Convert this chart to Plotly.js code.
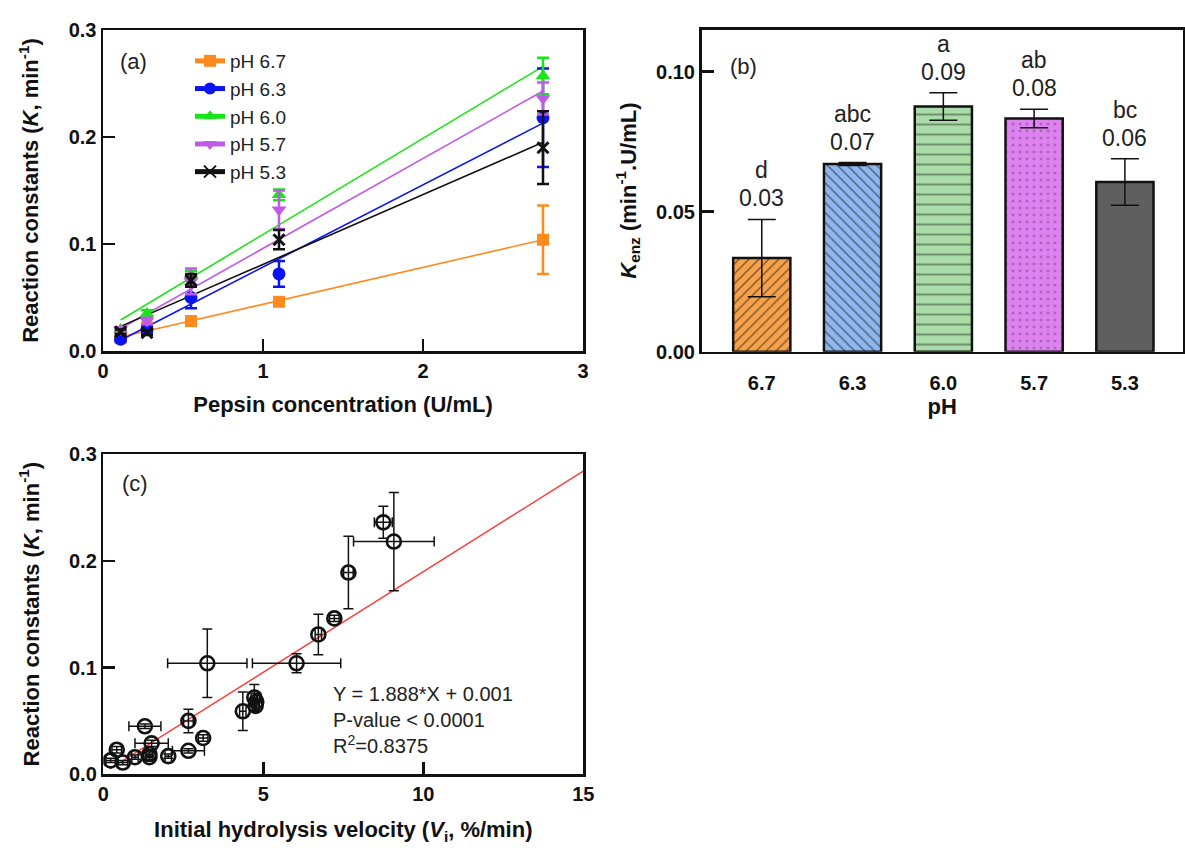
<!DOCTYPE html>
<html>
<head>
<meta charset="utf-8">
<script src="https://cdn.plot.ly/plotly-3.0.1.min.js"></script>
<style>html,body{margin:0;padding:0;background:#fff;}#chart{width:1185px;height:848px;}</style>
</head>
<body>
<div id="chart"></div>
<script>
// ---------- Panel (a) data ----------
const phNames = ['pH 6.7', 'pH 6.3', 'pH 6.0', 'pH 5.7', 'pH 5.3'];
const pepsinConc = [0.11, 0.275, 0.55, 1.1, 2.75];
const kPH67 = [0.012, 0.022, 0.028, 0.046, 0.104];
const kPH63 = [0.011, 0.020, 0.050, 0.072, 0.218];
const kPH60 = [0.020, 0.035, 0.071, 0.146, 0.257];
const kPH57 = [0.020, 0.028, 0.065, 0.132, 0.236];
const kPH53 = [0.018, 0.017, 0.066, 0.104, 0.190];
const errPH67 = [0.002, 0.002, 0.003, 0.003, 0.032];
const errPH63 = [0.002, 0.003, 0.010, 0.012, 0.046];
const errPH60 = [0.002, 0.003, 0.004, 0.005, 0.017];
const errPH57 = [0.002, 0.003, 0.012, 0.018, 0.015];
const errPH53 = [0.002, 0.002, 0.006, 0.009, 0.034];
const fitConc = [0.11, 2.75];
const fitPH67 = [0.013, 0.104];
const fitPH63 = [0.010, 0.213];
const fitPH60 = [0.029, 0.266];
const fitPH57 = [0.021, 0.243];
const fitPH53 = [0.023, 0.195];

// ---------- Panel (b) data ----------
const phCategories = ['6.7', '6.3', '6.0', '5.7', '5.3'];
const kEnz = [0.0334, 0.0670, 0.0875, 0.0832, 0.0606];
const kEnzErr = [0.0138, 0.0005, 0.0049, 0.0033, 0.0083];
const kEnzLabels = ['0.03', '0.07', '0.09', '0.08', '0.06'];
const sigLetters = ['d', 'abc', 'a', 'ab', 'bc'];

// ---------- Panel (c) data ----------
const velocity = [8.75, 9.08, 7.66, 7.22, 6.72, 6.04, 3.25, 4.72, 4.78, 4.76, 4.36, 2.66, 1.30, 3.12, 1.51, 2.66, 2.03, 1.44, 1.44, 0.99, 0.42, 0.23, 0.61];
const velocityErr = [0.28, 1.26, 0.15, 0.15, 0.10, 1.38, 1.24, 0.10, 0.10, 0.10, 0.10, 0.15, 0.50, 0.15, 0.52, 0.50, 0.10, 0.10, 0.10, 0.10, 0.15, 0.15, 0.15];
const kRate = [0.236, 0.218, 0.189, 0.146, 0.131, 0.104, 0.104, 0.072, 0.068, 0.064, 0.059, 0.050, 0.045, 0.034, 0.029, 0.022, 0.017, 0.019, 0.016, 0.016, 0.023, 0.013, 0.011];
const kRateErr = [0.015, 0.046, 0.034, 0.003, 0.019, 0.009, 0.032, 0.012, 0.008, 0.005, 0.018, 0.011, 0.002, 0.003, 0.003, 0.002, 0.002, 0.002, 0.002, 0.002, 0.003, 0.002, 0.002];
const regX = [0.2, 15];
const regY = [0.005, 0.284];

// ---------- styles ----------
const FONT = 'Arial, "Liberation Sans", Helvetica, sans-serif';
const seriesStyle = [
  {color: '#FF8A1E', symbol: 'square', size: 12},
  {color: '#0A14F0', symbol: 'circle', size: 13},
  {color: '#19E619', symbol: 'triangle-up', size: 13},
  {color: '#C05AE8', symbol: 'triangle-down', size: 13},
  {color: '#111111', symbol: 'x-thin-open', size: 11}
];
const barStyle = [
  {color: '#F7A24A', shape: '/', size: 7, solidity: 0.22},
  {color: '#8FB7EF', shape: '\\', size: 7, solidity: 0.22},
  {color: '#A9DCA9', shape: '-', size: 10, solidity: 0.15},
  {color: '#DD82F0', shape: '.', size: 7, solidity: 0.08},
  {color: '#5F5F5F', shape: '', size: 8, solidity: 0.2}
];
const seriesK = [kPH67, kPH63, kPH60, kPH57, kPH53];
const seriesErr = [errPH67, errPH63, errPH60, errPH57, errPH53];
const seriesFit = [fitPH67, fitPH63, fitPH60, fitPH57, fitPH53];

const traces = [];
// fit lines (a) — carry the legend entries (line + symbol); markers on the plot are vanishingly small
seriesFit.forEach((fy, i) => {
  const st = seriesStyle[i];
  const isX = st.symbol === 'x-thin-open';
  traces.push({
    x: fitConc, y: fy, xaxis: 'x', yaxis: 'y', mode: 'lines+markers', name: phNames[i],
    line: {color: st.color, width: 1.6},
    marker: {color: st.color, symbol: st.symbol, size: 0.01, line: {color: st.color, width: isX ? 3 : 0}},
    hoverinfo: 'skip'
  });
});
// points (a)
seriesK.forEach((ky, i) => {
  const st = seriesStyle[i];
  traces.push({
    x: pepsinConc, y: ky, xaxis: 'x', yaxis: 'y', name: phNames[i], showlegend: false,
    mode: 'markers',
    marker: {color: st.color, symbol: st.symbol, size: st.size,
             line: {color: st.color, width: st.symbol === 'x-thin-open' ? 3 : 0}},
    error_y: {type: 'data', array: seriesErr[i], visible: true, color: st.color, thickness: 2.5, width: 6}
  });
});
// bars (b)
phCategories.forEach((cat, i) => {
  const bs = barStyle[i];
  traces.push({
    type: 'bar', x: [cat], y: [kEnz[i]], xaxis: 'x2', yaxis: 'y2', showlegend: false,
    width: 0.63,
    marker: {
      color: bs.color,
      line: {color: '#111', width: 2.5},
      pattern: {shape: bs.shape, fgcolor: '#111', size: bs.size, solidity: bs.solidity, fillmode: 'overlay'}
    },
    error_y: {type: 'data', array: [kEnzErr[i]], visible: true, color: '#111', thickness: 1.5, width: 14}
  });
});
// regression (c)
traces.push({
  x: regX, y: regY, xaxis: 'x3', yaxis: 'y3', mode: 'lines',
  line: {color: '#FF3B3B', width: 1.4}, showlegend: false, hoverinfo: 'skip'
});
traces.push({
  x: velocity, y: kRate, xaxis: 'x3', yaxis: 'y3', mode: 'markers', showlegend: false,
  marker: {symbol: 'circle-open', size: 14, color: '#111', line: {color: '#111', width: 2.6}},
  error_x: {type: 'data', array: velocityErr, visible: true, color: '#111', thickness: 1.5, width: 5},
  error_y: {type: 'data', array: kRateErr, visible: true, color: '#111', thickness: 1.5, width: 5}
});

const tickFont = {family: FONT, size: 20, color: '#111', weight: 'bold'};
const titleFont = {family: FONT, size: 22, color: '#111'};
function axisBase(extra) {
  return Object.assign({
    showline: true, linecolor: '#111', linewidth: 2.5, mirror: true,
    showgrid: false, zeroline: false, ticks: 'inside', ticklen: 12, tickwidth: 2.5,
    tickcolor: '#111', tickfont: tickFont, fixedrange: true
  }, extra);
}

const panelFont = {family: FONT, size: 22, color: '#222'};
const annotations = [
  {xref: 'paper', yref: 'paper', x: 133 / 1185, y: 1 - 62 / 848, xanchor: 'center', yanchor: 'middle',
   text: '(a)', showarrow: false, font: panelFont},
  {xref: 'paper', yref: 'paper', x: 743 / 1185, y: 1 - 66 / 848, xanchor: 'center', yanchor: 'middle',
   text: '(b)', showarrow: false, font: panelFont},
  {xref: 'paper', yref: 'paper', x: 135 / 1185, y: 1 - 483 / 848, xanchor: 'center', yanchor: 'middle',
   text: '(c)', showarrow: false, font: panelFont},
  {xref: 'paper', yref: 'paper', x: 331 / 1185, y: 1 - 681 / 848, xanchor: 'left', yanchor: 'top', align: 'left',
   text: 'Y = 1.888*X + 0.001<br>P-value &lt; 0.0001<br>R<sup>2</sup>=0.8375', showarrow: false,
   font: {family: FONT, size: 20, color: '#222'}}
];
phCategories.forEach((c, i) => {
  annotations.push({xref: 'x2', yref: 'y2', x: i, y: kEnz[i] + kEnzErr[i], yanchor: 'middle',
    yshift: 21, text: kEnzLabels[i], showarrow: false, font: {family: FONT, size: 23, color: '#222'}});
  annotations.push({xref: 'x2', yref: 'y2', x: i, y: kEnz[i] + kEnzErr[i], yanchor: 'middle',
    yshift: 49, text: sigLetters[i], showarrow: false, font: {family: FONT, size: 23, color: '#222'}});
});

const layout = {
  width: 1185, height: 848,
  margin: {l: 0, r: 0, t: 0, b: 0},
  paper_bgcolor: '#fff', plot_bgcolor: '#fff',
  font: {family: FONT, color: '#111'},
  showlegend: true,
  barmode: 'overlay',
  legend: {x: 190 / 1185, y: 1 - 42 / 848, xanchor: 'left', yanchor: 'top', itemsizing: 'constant',
           font: {family: FONT, size: 19, color: '#222'}, bgcolor: 'rgba(0,0,0,0)',
           tracegroupgap: 0},
  xaxis: axisBase({domain: [103 / 1185, 583 / 1185], anchor: 'y', range: [0, 3], dtick: 1, tick0: 0,
    title: {text: '<b>Pepsin concentration (U/mL)</b>', font: titleFont, standoff: 16}}),
  yaxis: axisBase({domain: [1 - 351 / 848, 1 - 30 / 848], anchor: 'x', range: [0, 0.3], dtick: 0.1, tick0: 0,
    tickformat: '.1f',
    title: {text: '<b>Reaction constants (<i>K</i>, min<sup>-1</sup>)</b>', font: titleFont, standoff: 24}}),
  xaxis2: axisBase({domain: [701.5 / 1185, 1183 / 1185], anchor: 'y2', type: 'category',
    categoryorder: 'array', categoryarray: phCategories,
    range: [-0.664, 4.64], ticks: 'outside', ticklen: 12, tickcolor: 'rgba(0,0,0,0)',
    title: {text: '<b>pH</b>', font: titleFont, standoff: 2}}),
  yaxis2: axisBase({domain: [1 - 351.7 / 848, 1 - 29.5 / 848], anchor: 'x2', range: [0, 0.115],
    dtick: 0.05, tick0: 0, tickformat: '.2f',
    title: {text: '<b><i>K</i><sub>enz</sub> (min<sup>-1</sup>.U/mL)</b>', font: titleFont, standoff: 14}}),
  xaxis3: axisBase({domain: [103.3 / 1185, 583.3 / 1185], anchor: 'y3', range: [0, 15], dtick: 5, tick0: 0,
    title: {text: '<b>Initial hydrolysis velocity (<i>V</i><sub>i</sub>, %/min)</b>', font: titleFont, standoff: 18}}),
  yaxis3: axisBase({domain: [1 - 774.3 / 848, 1 - 454 / 848], anchor: 'x3', range: [0, 0.3], dtick: 0.1, tick0: 0,
    tickformat: '.1f',
    title: {text: '<b>Reaction constants (<i>K</i>, min<sup>-1</sup>)</b>', font: titleFont, standoff: 24}}),
  annotations: annotations
};

Plotly.newPlot('chart', traces, layout, {staticPlot: true, displayModeBar: false});
</script>
</body>
</html>
